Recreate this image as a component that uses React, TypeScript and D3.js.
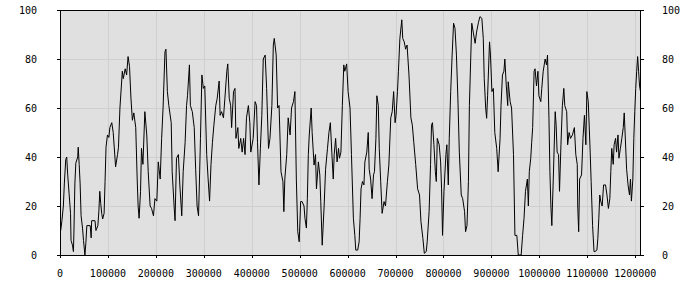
import React from "react";
import * as d3 from "d3";

// x positions in thousands, y values 0-100
const xsK: number[] = [
  1.5,4,7,9,12,14,16,19,22,23,26,28,29,31,33,37,38,40,42,44,47,49,52,54,56,63,65,66,73,75,79,81,83,85,87,89,92,94,96,99,102,104,108,111,116,120,122,125,130,132,136,139,142,145,148,151,154,158,161,163,165,168,170,173,177,181,184,188,191,195,198,202,205,209,212,215,219,221,224,227,232,234,238,240,243,247,250,254,257,261,264,266,270,272,276,280,283,286,289,291,293,296,299,302,306,309,312,315,318,321,325,328,332,334,337,341,344,348,350,353,356,358,362,365,367,371,373,377,380,383,386,389,393,396,398,403,407,410,412,415,418,421,424,428,431,435,438,442,445,447,451,454,457,461,465,467,469,473,476,480,483,487,490,493,496,499,502,505,509,511,514,516,518,520,524,526,530,533,535,539,542,544,547,551,554,558,561,564,567,570,572,575,578,581,583,586,589,592,594,598,601,605,608,612,615,617,621,624,626,628,631,634,636,640,643,645,648,651,654,656,659,661,664,666,669,672,676,679,683,686,690,693,696,699,701,704,706,709,713,715,718,721,724,728,732,735,738,742,746,750,753,757,760,764,766,770,773,775,777,780,783,785,787,791,794,796,798,801,805,807,810,812,815,818,821,824,827,830,833,837,840,844,846,849,852,854,857,859,862,866,869,873,876,880,883,885,888,890,892,896,898,901,904,907,911,914,918,920,923,926,928,931,934,935,939,942,946,949,953,956,962,965,968,971,975,977,979,982,984,986,989,991,994,997,999,1003,1005,1008,1012,1015,1017,1020,1022,1024,1026,1029,1033,1035,1037,1040,1042,1045,1048,1051,1053,1057,1059,1062,1065,1069,1073,1076,1079,1080,1082,1084,1088,1091,1094,1097,1099,1102,1106,1108,1111,1114,1116,1120,1122,1124,1126,1128,1131,1134,1138,1141,1144,1147,1149,1151,1154,1156,1159,1161,1164,1166,1169,1172,1175,1177,1179,1182,1185,1188,1190,1192,1195,1197,1199,1201,1203,1205,1207,1209,1211
];
const values: number[] = [
  10,14,20,29,39,40,33,25,17,6,4,1.4,9,29,37.5,40,44,37,29,16,11,6,0,5,12,12,7,14,14,10,12,17.6,26,21,17,14.7,17,30,44,49,48,52,54,50,36,41,44,60,75,72,76,73.5,81,77,64,55,58,52,31,20,15,26,43.5,37,58.5,49,34,20,19,16,23,22,38,31,47.6,60,83,84,66.7,61,54,34,20,14,39.5,41,28.6,16,34,46,61,65,77.6,61,58.5,52,35,20,16,31,47.6,73.5,68,69,41,31,22,37,46,53,61,64,71,57,58.5,56,64,75,78,64,61,52,66.7,68,47.6,52,43.5,47.6,42,47.6,41,56,61,54,42,47.6,62.6,61,46,28.6,43.5,57,80,81.6,68,43.5,47.6,61,85.7,88.4,81.6,60,61,34,30,17.7,31,41,56,49,60,62.6,66.7,31,9.5,5.4,21.8,21.8,20,15,11,23,41,49,60,50,36.7,41,27,38,32.7,21.8,4,20,35,43.5,50,54,42,31,41,47.6,38,43.5,39.5,42,61,77.6,75,78,66.7,60,41,15,8,2,2,5.4,15,27,30,28.6,38,42,50,35,31,23,32.7,34,47.6,65,61,43.5,30,17,21.8,20,30,36.7,56,58.5,66.7,54,57,66.7,75,88.4,96,88.4,87,84,85.7,73.5,56,53,46,37,27,24.5,13.6,6.8,0.7,1.4,5.4,17.7,37,53,54,45,34,30,47.6,45,38,27,8,26,41,45,28.6,47.6,66.7,81.6,94.6,92.5,81.6,64,42,24.5,23,17.7,9.5,12,30,61,81.6,94.6,91,86.4,91,95,97.3,96.6,88.4,72,60,55.8,65,87,81.6,66.7,68,50,43.5,34,47.6,61,73.5,75,80,69,61,70.7,62.6,60,41,8,8,0,0,8,15,26,31,20,34,39.5,46,52,75,76,69,75,65,62.6,68,75,80,77.6,81.6,55.8,34,20,12,31,58.5,53,42,41,26,45,61,68,61,58.5,45,50,47.6,49,52,41,37,20,9.5,31,32.7,47.6,57,45,66.7,62.6,42,30,12,1.4,1.4,2,6.8,15,24.5,22,20,28.6,28.6,24.5,19,23,34,43.5,37,45,47.6,42,49,39.5,43.5,47.6,52,58,49,35,28.6,24.5,31,22,31,47.6,58.5,68,75,81,75,69,66.7
];
const yTicks: number[] = [0, 20, 40, 60, 80, 100];
const xTicks: number[] = [0,100000,200000,300000,400000,500000,600000,700000,800000,900000,1000000,1100000,1200000];

export default function App() {
  const W = 700, H = 300;
  const left = 60, right = 641, top = 10, bottom = 255;
  const x = d3.scaleLinear().domain([0, 1212000]).range([left, right]);
  const y = d3.scaleLinear().domain([0, 100]).range([bottom, top]);
  const data = xsK.map((k, i) => ({ x: k * 1000, v: values[i] }));
  const line = d3.line<{ x: number; v: number }>().x(d => x(d.x)).y(d => y(d.v));
  const font = "'DejaVu Sans Mono', monospace";
  return (
    <svg width={W} height={H} style={{ position: "absolute", left: 0, top: 0, background: "#fff" }}>
      <rect x={left} y={top} width={right - left} height={bottom - top} fill="#e0e0e0" />
      {yTicks.map(t => (
        <line key={"gy" + t} x1={left} x2={right} y1={y(t) + 0.5} y2={y(t) + 0.5} stroke="#cfcfcf" />
      ))}
      {xTicks.map(t => (
        <line key={"gx" + t} x1={Math.round(x(t)) + 0.5} x2={Math.round(x(t)) + 0.5} y1={top} y2={bottom} stroke="#cfcfcf" />
      ))}
      <path d={line(data) || ""} fill="none" stroke="#000" strokeWidth={1} />
      <rect x={left + 0.5} y={top + 0.5} width={right - left - 1} height={bottom - top} fill="none" stroke="#000" />
      {yTicks.map(t => (
        <g key={"ty" + t}>
          <line x1={left - 3} x2={left} y1={y(t) + 0.5} y2={y(t) + 0.5} stroke="#000" />
          <line x1={right} x2={right + 3} y1={y(t) + 0.5} y2={y(t) + 0.5} stroke="#000" />
          <text x={37} y={y(t) + 4} textAnchor="end" fontFamily={font} fontSize={10} fill="#000">{t}</text>
          <text x={662} y={y(t) + 4} textAnchor="start" fontFamily={font} fontSize={10} fill="#000">{t}</text>
        </g>
      ))}
      {xTicks.map(t => (
        <g key={"tx" + t}>
          <line x1={Math.round(x(t)) + 0.5} x2={Math.round(x(t)) + 0.5} y1={bottom} y2={bottom + 3} stroke="#000" />
          <text x={x(t)} y={277} textAnchor="middle" fontFamily={font} fontSize={10} fill="#000">{t}</text>
        </g>
      ))}
    </svg>
  );
}
